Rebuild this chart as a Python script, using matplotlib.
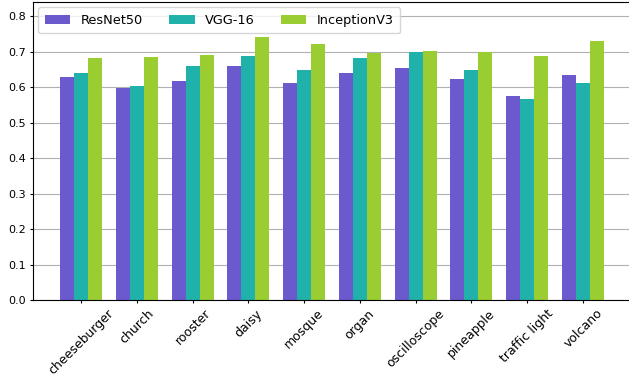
import matplotlib
matplotlib.use("Agg")
import matplotlib.pyplot as plt
import numpy as np

categories = ["cheeseburger", "church", "rooster", "daisy", "mosque", "organ",
              "oscilloscope", "pineapple", "traffic light", "volcano"]
resnet50 = [0.628, 0.598, 0.616, 0.659, 0.613, 0.639, 0.653, 0.622, 0.574, 0.634]
vgg16 = [0.641, 0.602, 0.659, 0.687, 0.648, 0.683, 0.699, 0.648, 0.567, 0.613]
inception = [0.681, 0.685, 0.690, 0.740, 0.723, 0.697, 0.703, 0.699, 0.687, 0.730]
series_names = ["ResNet50", "VGG-16", "InceptionV3"]

fig = plt.figure(figsize=(6.29, 3.76), dpi=100)
ax = fig.add_axes([33 / 629, 1 - 300 / 376, 598 / 629, 298 / 376])

x = np.arange(len(categories))
w = 0.25
colors = ["#6A5ACD", "#20B2AA", "#9ACD32"]
for i, (vals, name) in enumerate(zip([resnet50, vgg16, inception], series_names)):
    ax.bar(x + (i - 1) * w, vals, w, label=name, color=colors[i])

ax.set_yticks(np.arange(0, 0.81, 0.1))
ax.set_ylim(0, 0.84)
ax.set_xticks(x)
ax.set_xticklabels(categories, rotation=45, fontsize=9)
ax.tick_params(axis="y", labelsize=8)
ax.tick_params(length=2.5, pad=2.5, width=0.8)
for s in ax.spines.values():
    s.set_linewidth(0.8)
ax.yaxis.grid(True, color="#b0b0b0", linewidth=0.8)
ax.set_axisbelow(True)
ax.legend(ncol=3, loc="upper left", fontsize=9.3, borderaxespad=0.4,
          borderpad=0.5)

fig.savefig("out.png", dpi=100)
